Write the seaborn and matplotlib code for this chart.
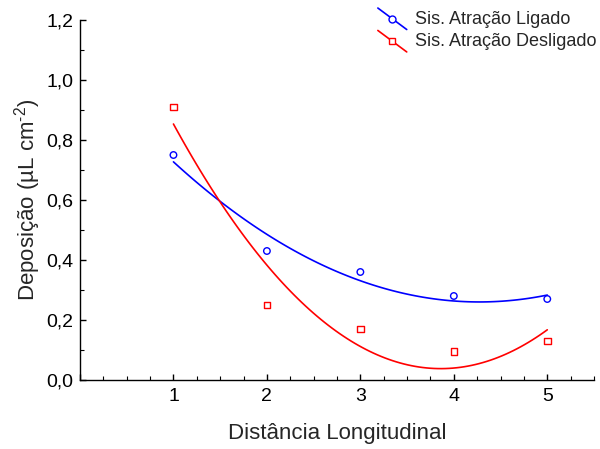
import numpy as np
import pandas as pd
import matplotlib
matplotlib.use("Agg")
import matplotlib.pyplot as plt
from matplotlib.lines import Line2D
from matplotlib.legend_handler import HandlerBase
from matplotlib.ticker import MultipleLocator, FuncFormatter
import seaborn as sns

# Measured deposition per longitudinal position
distancia = [1, 2, 3, 4, 5]
ligado = [0.75, 0.43, 0.36, 0.28, 0.27]
desligado = [0.91, 0.25, 0.17, 0.095, 0.13]
series_names = ["Sis. Atração Ligado", "Sis. Atração Desligado"]
series_colors = ["#0000ff", "#ff0000"]
series_markers = ["o", "s"]

df = pd.DataFrame({
    "x": distancia * 2,
    "y": ligado + desligado,
    "serie": [series_names[0]] * len(distancia) + [series_names[1]] * len(distancia),
})

sns.set_theme(style="ticks")
plt.rcParams["font.family"] = ["Liberation Sans", "DejaVu Sans"]
plt.rcParams["mathtext.fontset"] = "custom"
plt.rcParams["mathtext.rm"] = "Liberation Sans"
plt.rcParams["mathtext.it"] = "Liberation Sans:italic"
plt.rcParams["mathtext.bf"] = "Liberation Sans:bold"

fig = plt.figure(figsize=(6.0, 4.49), dpi=100)
ax = fig.add_axes([80 / 600, 1 - 380 / 449, 514 / 600, 360 / 449])

for name, col, mk in zip(series_names, series_colors, series_markers):
    sub = df[df["serie"] == name]
    # second-order polynomial fit through the points
    sns.regplot(data=sub, x="x", y="y", order=2, ci=None, scatter=False,
                ax=ax, line_kws={"color": col, "lw": 1.2})
    sns.scatterplot(data=sub, x="x", y="y", ax=ax, marker=mk, s=22,
                    facecolors="none", edgecolor=col, linewidth=1.0,
                    legend=False)

ax.set_xlim(0, 5.5)
ax.set_ylim(0, 1.2)
ax.xaxis.set_major_locator(MultipleLocator(1))
ax.xaxis.set_minor_locator(MultipleLocator(0.25))
ax.yaxis.set_major_locator(MultipleLocator(0.2))
ax.yaxis.set_minor_locator(MultipleLocator(0.1))
ax.xaxis.set_major_formatter(FuncFormatter(lambda v, p: f"{v:.0f}" if 0.5 < v < 5.5 else ""))
ax.yaxis.set_major_formatter(FuncFormatter(lambda v, p: f"{v:.1f}".replace(".", ",")))
ax.tick_params(which="both", direction="in", colors="black", labelsize=14)
ax.tick_params(axis="x", which="major", length=4, width=1, pad=6)
ax.tick_params(axis="y", which="major", length=4, width=1, pad=5)
ax.tick_params(which="minor", length=3, width=0.8)
for s in ["top", "right"]:
    ax.spines[s].set_visible(False)
for s in ["left", "bottom"]:
    ax.spines[s].set_color("black")
    ax.spines[s].set_linewidth(1.0)

ax.set_xlabel("Distância Longitudinal", fontsize=16, labelpad=13)
ax.set_ylabel("Deposição (µL cm$^{\\text{-2}}$)", fontsize=16, labelpad=2)


class SlantHandler(HandlerBase):
    def __init__(self, color, marker):
        super().__init__()
        self.color = color
        self.marker = marker

    def create_artists(self, legend, orig_handle, xdescent, ydescent,
                       width, height, fontsize, trans):
        x0, x1 = -xdescent, width - xdescent
        y0, y1 = height * 1.25 - ydescent, -height * 0.45 - ydescent
        line = Line2D([x0, x1], [y0, y1], color=self.color, lw=1.2)
        mk = Line2D([(x0 + x1) / 2], [(y0 + y1) / 2], marker=self.marker,
                    ms=5, mfc="white", mec=self.color, mew=1.0, ls="none")
        line.set_transform(trans)
        mk.set_transform(trans)
        return [line, mk]


handles = [Line2D([], [], color=c) for c in series_colors]
fig.legend(handles, series_names, loc="upper right",
           bbox_to_anchor=(1.012, 1.0), frameon=False, fontsize=13,
           handlelength=1.6, handletextpad=0.45, labelspacing=0.3,
           borderaxespad=0.2,
           handler_map={h: SlantHandler(c, m) for h, c, m in
                        zip(handles, series_colors, series_markers)})

fig.savefig("out.png", dpi=100)
